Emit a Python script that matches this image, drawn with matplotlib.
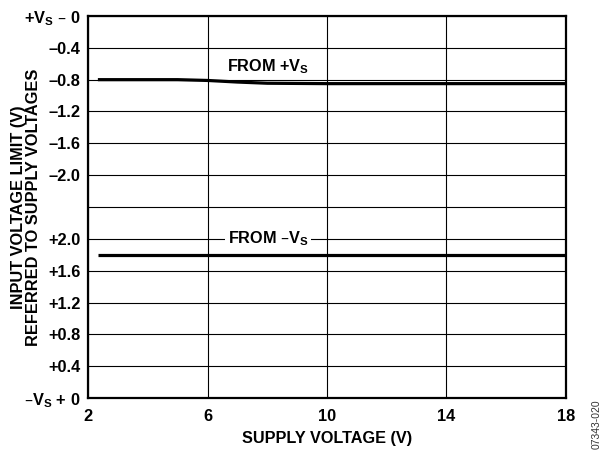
import matplotlib

matplotlib.use("Agg")
import matplotlib.pyplot as plt

plt.rcParams["font.family"] = ["Liberation Sans", "DejaVu Sans"]
plt.rcParams["font.weight"] = "bold"

# supply voltage (V) and input limit, referred to each supply (V)
supply_pos = [2.33, 4.0, 5.0, 6.0, 7.0, 8.0, 10.0, 14.0, 18.0]
limit_from_pos = [-0.80, -0.80, -0.80, -0.81, -0.83, -0.845, -0.85, -0.85, -0.85]
supply_neg = [2.33, 6.0, 10.0, 14.0, 18.0]
limit_from_neg = [1.80, 1.80, 1.80, 1.80, 1.80]

x_ticks = [2, 6, 10, 14, 18]
y_tick_labels = [
    "\u2013V$_{\\mathregular{S}}$ + 0", "+0.4", "+0.8", "+1.2", "+1.6", "+2.0", "",
    "\u20132.0", "\u20131.6", "\u20131.2", "\u20130.8", "\u20130.4",
    "+V$_{\\mathregular{S}}$ \u2013 0",
]

ROW = 0.4  # volts per grid row
N_ROWS = 12


def from_pos_supply(v):
    # upper half: volts below +Vs -> row position (top = 12)
    return [N_ROWS + val / ROW for val in v]


def from_neg_supply(v):
    # lower half: volts above -Vs -> row position (bottom = 0)
    return [val / ROW for val in v]


fig = plt.figure(figsize=(6.13, 4.53), dpi=100)
ax = fig.add_axes([0.1436, 0.1214, 0.7797, 0.8433])

ax.plot(supply_pos, from_pos_supply(limit_from_pos), color="black", lw=2.3,
        solid_capstyle="butt", zorder=3)
ax.plot(supply_neg, from_neg_supply(limit_from_neg), color="black", lw=2.3,
        solid_capstyle="butt", zorder=3)

ax.set_xlim(2, 18)
ax.set_ylim(0, N_ROWS)
ax.set_xticks(x_ticks)
ax.set_xticklabels([str(t) for t in x_ticks])
ax.set_yticks(range(N_ROWS + 1))
ax.set_yticklabels(y_tick_labels)
ax.tick_params(axis="both", length=0, labelsize=11.8)
ax.tick_params(axis="x", pad=8)
ax.tick_params(axis="y", pad=5.5)
ax.grid(True, color="black", lw=0.8)
ax.set_axisbelow(True)
for sp in ax.spines.values():
    sp.set_linewidth(1.6)

ax.text(8.03, 10.41, "FROM +V$_{\\mathregular{S}}$", ha="center", va="center",
        fontsize=11.7, fontweight="bold")
ax.text(8.03, 5.0, "FROM \u2013V$_{\\mathregular{S}}$", ha="center", va="center",
        fontsize=11.7, fontweight="bold",
        bbox=dict(facecolor="white", edgecolor="none", pad=2), zorder=4)

ax.set_xlabel("SUPPLY VOLTAGE (V)", fontsize=11.7, fontweight="bold", labelpad=5)
fig.text(0.042, 0.543, "INPUT VOLTAGE LIMIT (V)\nREFERRED TO SUPPLY VOLTAGES",
         rotation=90, ha="center", va="center", multialignment="center",
         fontsize=11.8, fontweight="bold", linespacing=1.0)
fig.text(0.974, 0.008, "07343-020", rotation=90, ha="center", va="bottom",
         fontsize=7.5, fontweight="normal", color="#333333")

fig.savefig("out.png", dpi=100)
